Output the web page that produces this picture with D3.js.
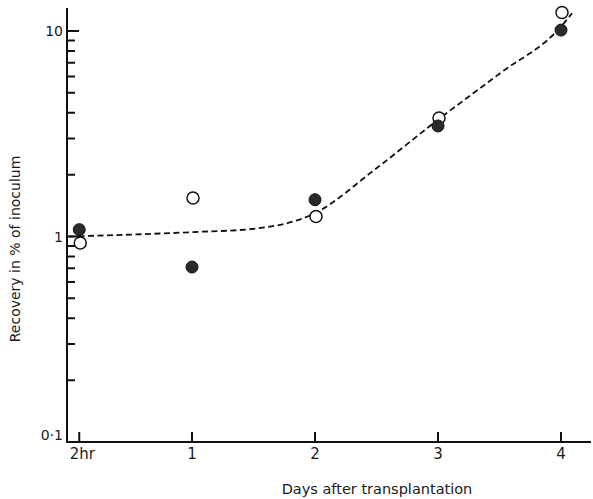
<!DOCTYPE html>
<html>
<head>
<meta charset="utf-8">
<script src="https://cdn.jsdelivr.net/npm/d3@7"></script>
<style>
  body { margin: 0; background: #fff; }
  text { font-family: "DejaVu Sans", sans-serif; fill: #1a1a1a; }
</style>
</head>
<body>
<div id="chart"></div>
<script>
// time points (days after transplantation); first one is 2 hours
const days = [2 / 24, 1, 2, 3, 4];
const dayLabels = ["2hr", "1", "2", "3", "4"];

// recovery in % of inoculum
const openVals = [0.93, 1.54, 1.25, 3.77, 12.3];
const filledVals = [1.08, 0.71, 1.51, 3.45, 10.1];

// hand drawn dashed trend
const curveDays = [0, 1, 1.5, 2, 2.5, 3, 3.5, 4, 4.09];
const curveVals = [1.0, 1.05, 1.09, 1.3, 2.15, 3.7, 6.2, 10.5, 12.2];

const yMajor = [0.1, 1, 10];
const yTickLabels = ["0·1", "1", "10"];
const yMinorSteps = [2, 3, 4, 5, 6, 7, 8, 9];

const width = 593, height = 499;

const x = d3.scaleLinear().domain([0, 4]).range([69, 561]);
const y = d3.scaleLog().domain([0.1, 10]).range([442, 31]);

const svg = d3.select("#chart").append("svg")
    .attr("width", width)
    .attr("height", height);

// y ticks (log), pointing inward
const yMinor = [];
yMajor.slice(0, 2).forEach(m => yMinorSteps.forEach(k => yMinor.push(m * k)));

const tickPath = d3.path();
yMajor.forEach(v => { tickPath.moveTo(67, y(v)); tickPath.lineTo(79, y(v)); });
yMinor.forEach(v => { tickPath.moveTo(67, y(v)); tickPath.lineTo(75, y(v)); });
// x ticks, pointing up
days.forEach(d => { tickPath.moveTo(x(d), y(0.1)); tickPath.lineTo(x(d), y(0.1) - 10); });

svg.append("path")
    .attr("d", tickPath.toString())
    .attr("fill", "none")
    .attr("stroke", "#111")
    .attr("stroke-width", 2);

// axes lines
svg.append("path")
    .attr("d", `M67,8V${y(0.1)}H591`)
    .attr("fill", "none")
    .attr("stroke", "#111")
    .attr("stroke-width", 2);

yMajor.forEach((v, i) => {
  svg.append("text")
      .attr("x", 63)
      .attr("y", y(v) + (v === 0.1 ? -2 : 5))
      .attr("text-anchor", "end")
      .style("font-size", "14px")
      .text(yTickLabels[i]);
});

days.forEach((d, i) => {
  svg.append("text")
      .attr("x", x(d) + (i === 0 ? 3 : 0))
      .attr("y", 459)
      .attr("text-anchor", "middle")
      .style("font-size", "15px")
      .text(dayLabels[i]);
});

// axis titles
svg.append("text")
    .attr("x", 377).attr("y", 494)
    .attr("text-anchor", "middle")
    .style("font-size", "14.5px")
    .text("Days after transplantation");

svg.append("text")
    .attr("transform", "translate(20,249) rotate(-90)")
    .attr("text-anchor", "middle")
    .style("font-size", "14px")
    .text("Recovery in % of inoculum");

// dashed curve
const line = d3.line()
    .x(d => x(d[0]))
    .y(d => y(d[1]))
    .curve(d3.curveMonotoneX);

svg.append("path")
    .datum(curveDays.map((d, i) => [d, curveVals[i]]))
    .attr("d", line)
    .attr("fill", "none")
    .attr("stroke", "#111")
    .attr("stroke-width", 1.8)
    .attr("stroke-dasharray", "6,3.5");

// points
svg.append("g").selectAll("circle")
    .data(days)
    .join("circle")
    .attr("cx", d => x(d) + 1)
    .attr("cy", (d, i) => y(openVals[i]))
    .attr("r", 6)
    .attr("fill", "#fff")
    .attr("stroke", "#111")
    .attr("stroke-width", 1.5);

svg.append("g").selectAll("circle")
    .data(days)
    .join("circle")
    .attr("cx", d => x(d))
    .attr("cy", (d, i) => y(filledVals[i]))
    .attr("r", 6)
    .attr("fill", "#2a2a2a")
    .attr("stroke", "#111")
    .attr("stroke-width", 1);
</script>
</body>
</html>
